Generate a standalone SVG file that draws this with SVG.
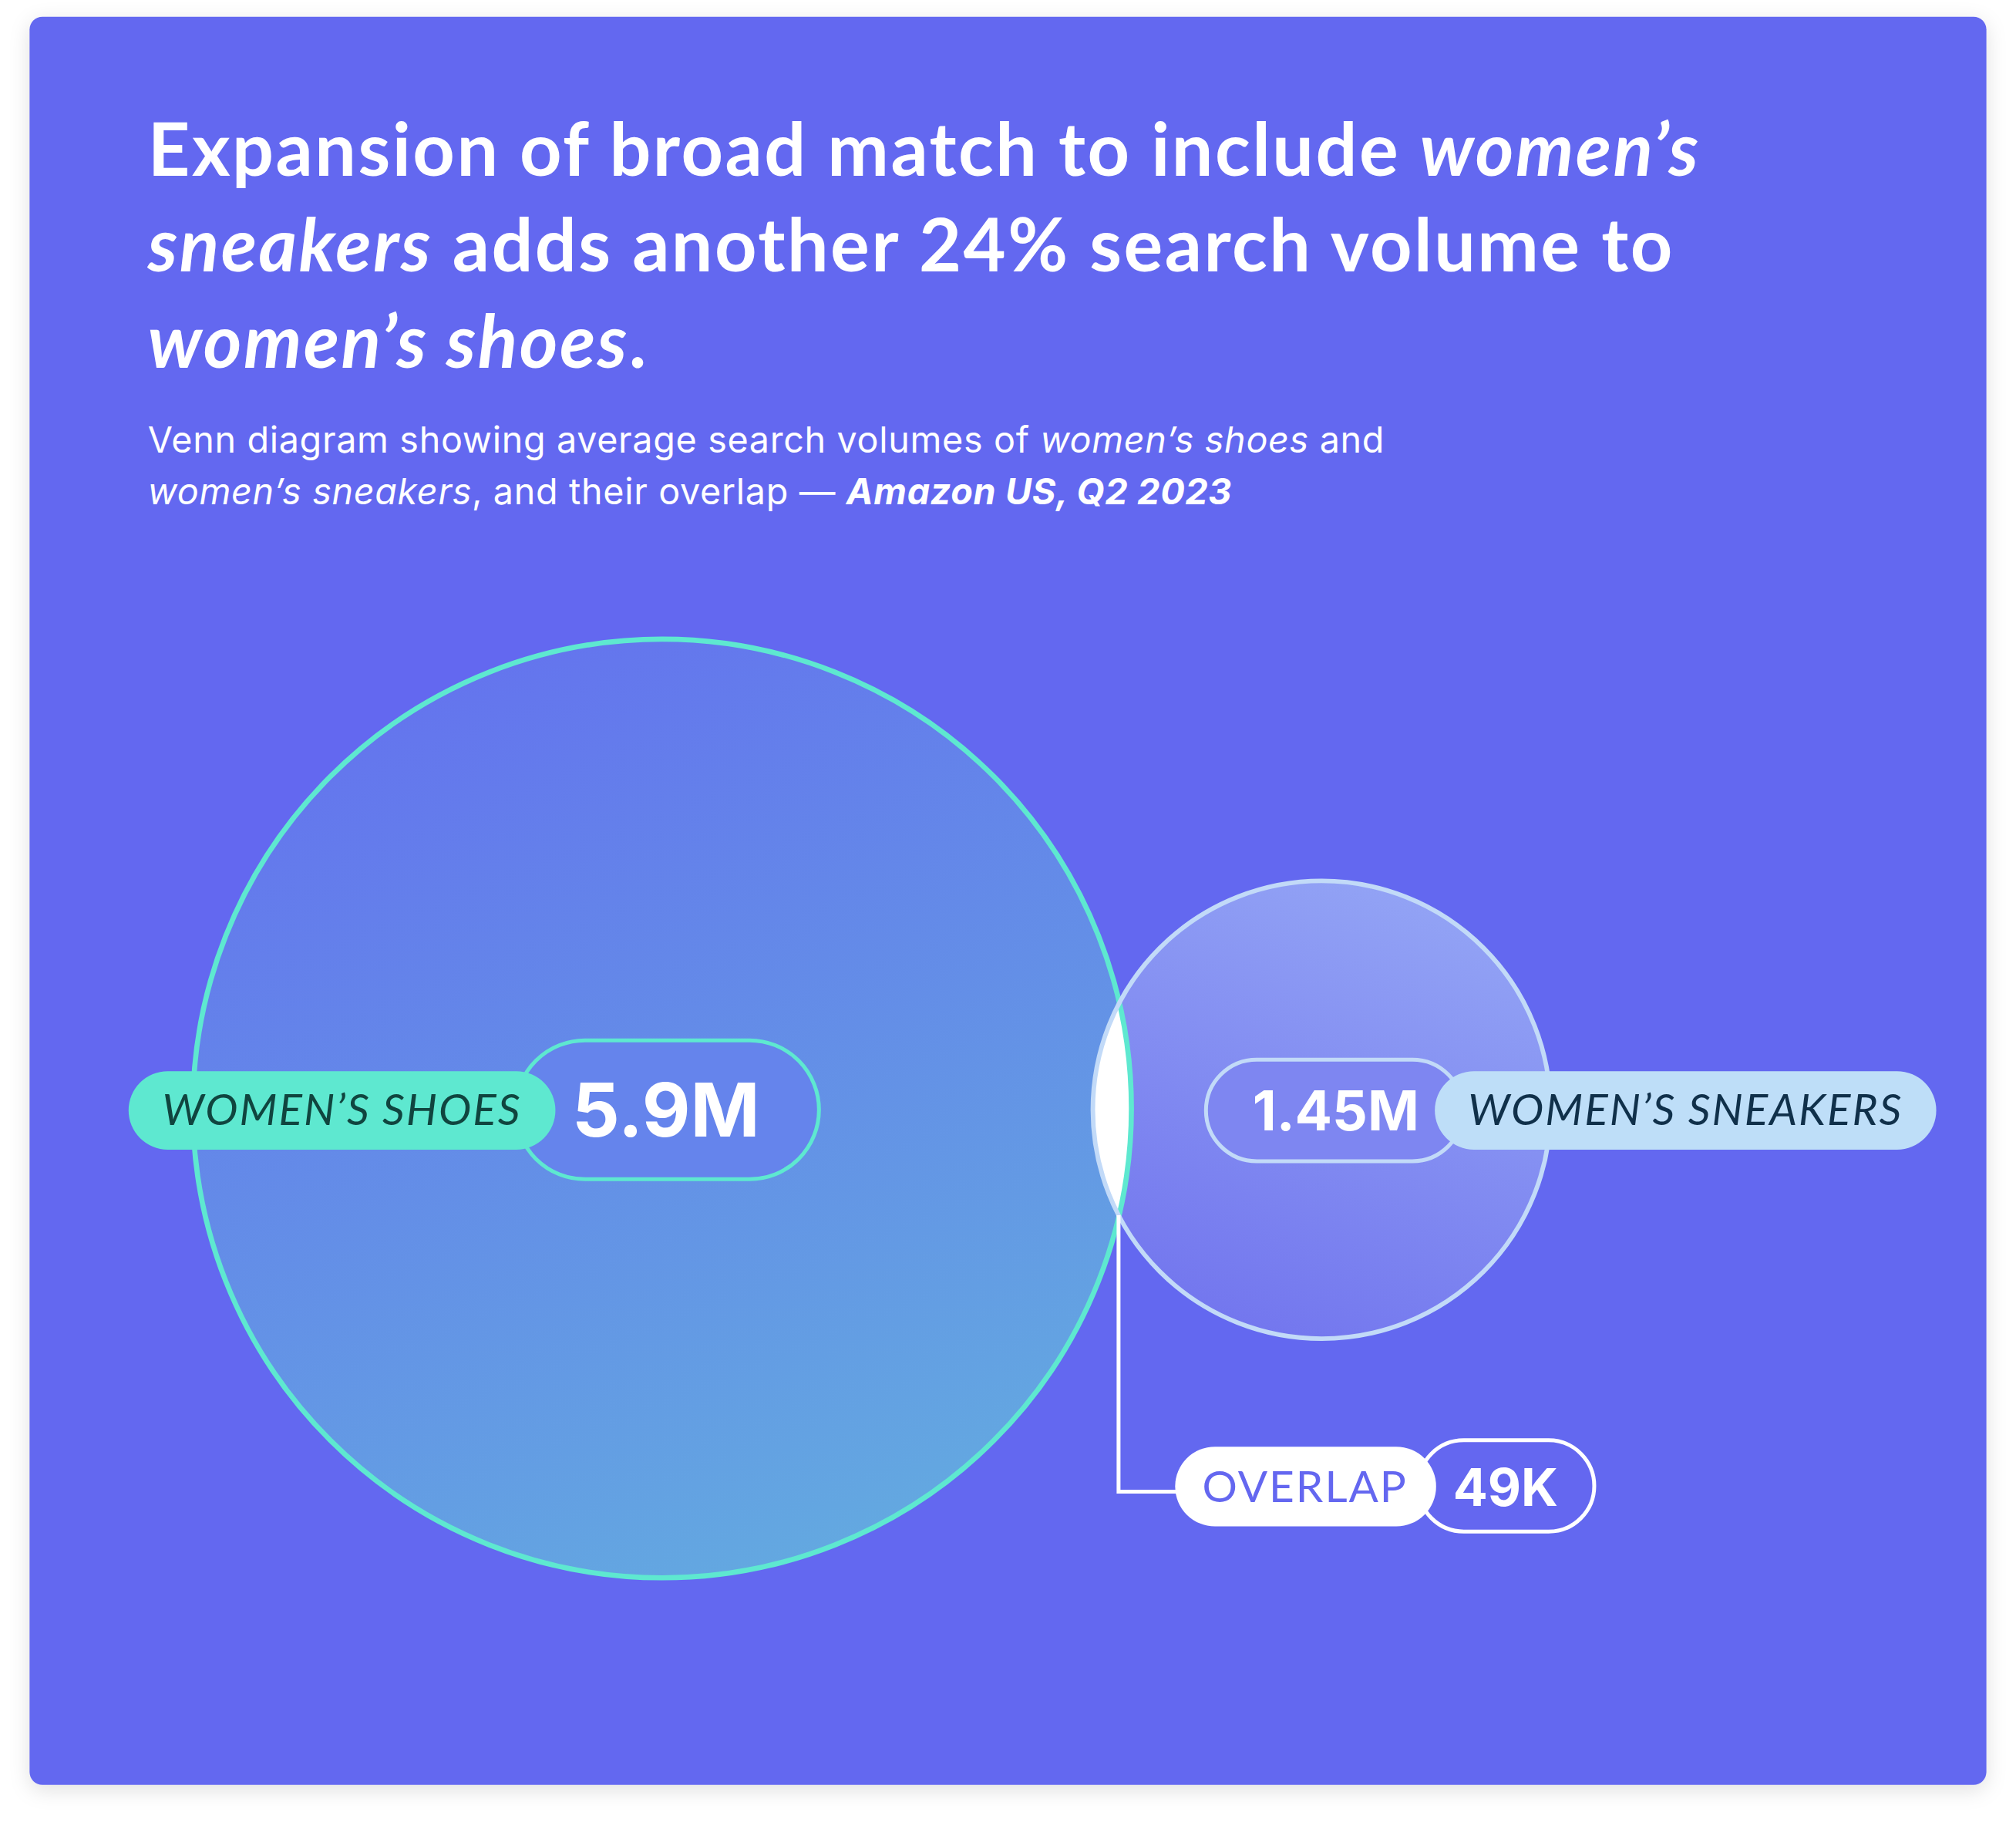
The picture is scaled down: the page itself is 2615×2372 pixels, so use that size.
<svg xmlns="http://www.w3.org/2000/svg" width="2615" height="2372" viewBox="0 0 2615 2372">
<defs>
<style>
.t{font-family:Lato,"Noto Sans",sans-serif;font-weight:700;fill:#fff;font-size:57px;letter-spacing:1.5px}
.s{font-family:Inter,"Noto Sans",sans-serif;fill:#fff;font-size:28px;letter-spacing:0.4px}
.lbl{font-family:Lato,"Noto Sans",sans-serif;font-size:34px;font-style:italic;letter-spacing:1.2px}
.num{font-family:Inter,"Noto Sans",sans-serif;font-weight:700;fill:#fff}
</style>
<linearGradient id="gBig" x1="0.3" y1="0" x2="0.7" y2="1"><stop offset="0" stop-color="#6473EE"/><stop offset="1" stop-color="#63AAE0"/></linearGradient>
<linearGradient id="gSmall" x1="0.7" y1="0" x2="0.3" y2="1"><stop offset="0" stop-color="#93A4F5"/><stop offset="1" stop-color="#7275EE"/></linearGradient>
<clipPath id="cBig"><circle cx="515" cy="862" r="365"/></clipPath>
<filter id="sh" x="-5%" y="-5%" width="110%" height="110%"><feDropShadow dx="0" dy="4" stdDeviation="8" flood-color="#000" flood-opacity="0.12"/></filter>
</defs>
<rect width="2615" height="2372" fill="#fff"/>
<g transform="scale(1.6677)">
<rect id="card" x="23" y="13" width="1522" height="1375" rx="10" fill="#6467F0" filter="url(#sh)"/>
<g id="title">
<text class="t" x="115" y="137">Expansion of broad match to include <tspan font-style="italic">women’s</tspan></text>
<text class="t" x="115" y="211"><tspan font-style="italic">sneakers</tspan> adds another 24% search volume to</text>
<text class="t" x="115" y="286"><tspan font-style="italic">women’s shoes</tspan>.</text>
<text class="s" x="115" y="352">Venn diagram showing average search volumes of <tspan font-style="italic">women’s shoes</tspan> and</text>
<text class="s" x="115" y="392"><tspan font-style="italic">women’s sneakers</tspan>, and their overlap — <tspan font-style="italic" font-weight="700">Amazon US, Q2 2023</tspan></text>
</g>
<g id="circles">
<circle cx="515" cy="862" r="365" fill="url(#gBig)"/>
<circle cx="1028" cy="863" r="178" fill="url(#gSmall)"/>
<circle cx="1028" cy="863" r="178" fill="#fff" clip-path="url(#cBig)"/>
<circle cx="515" cy="862" r="365" fill="none" stroke="#5EE8D0" stroke-width="4"/>
<circle cx="1028" cy="863" r="178" fill="none" stroke="#C2DAF8" stroke-width="3.5"/>
</g>
<g id="connectors">
<polyline points="870,945 870,1160 916,1160" fill="none" stroke="#fff" stroke-width="3"/>
</g>
<g id="node-shoes">
<rect x="401" y="809" width="236" height="108" rx="54" fill="#6584EC" stroke="#5EE8D0" stroke-width="3"/>
<rect x="100" y="833" width="332" height="61" rx="30.5" fill="#5EE8D0"/>
<text class="lbl" x="266" y="875" text-anchor="middle" fill="#10453F">WOMEN’S SHOES</text>
<text class="num" x="518" y="884" text-anchor="middle" font-size="58">5.9M</text>
</g>
<g id="node-sneakers">
<rect x="938" y="824" width="200" height="79" rx="39.5" fill="#7E86F1" stroke="#C2DAF8" stroke-width="3"/>
<rect x="1116" y="833" width="390" height="61" rx="30.5" fill="#BEDEF8"/>
<text class="lbl" x="1311" y="875" text-anchor="middle" fill="#10304A">WOMEN’S SNEAKERS</text>
<text class="num" x="1039" y="879" text-anchor="middle" font-size="43">1.45M</text>
</g>
<g id="node-overlap">
<rect x="1103" y="1120" width="137" height="71" rx="35.5" fill="#6467F0" stroke="#fff" stroke-width="3"/>
<rect x="914" y="1125" width="203" height="62" rx="31" fill="#fff"/>
<text class="lbl" x="1015" y="1168" text-anchor="middle" fill="#6467F0" style="font-style:normal">OVERLAP</text>
<text class="num" x="1171" y="1171" text-anchor="middle" font-size="40">49K</text>
</g>
</g>
</svg>
